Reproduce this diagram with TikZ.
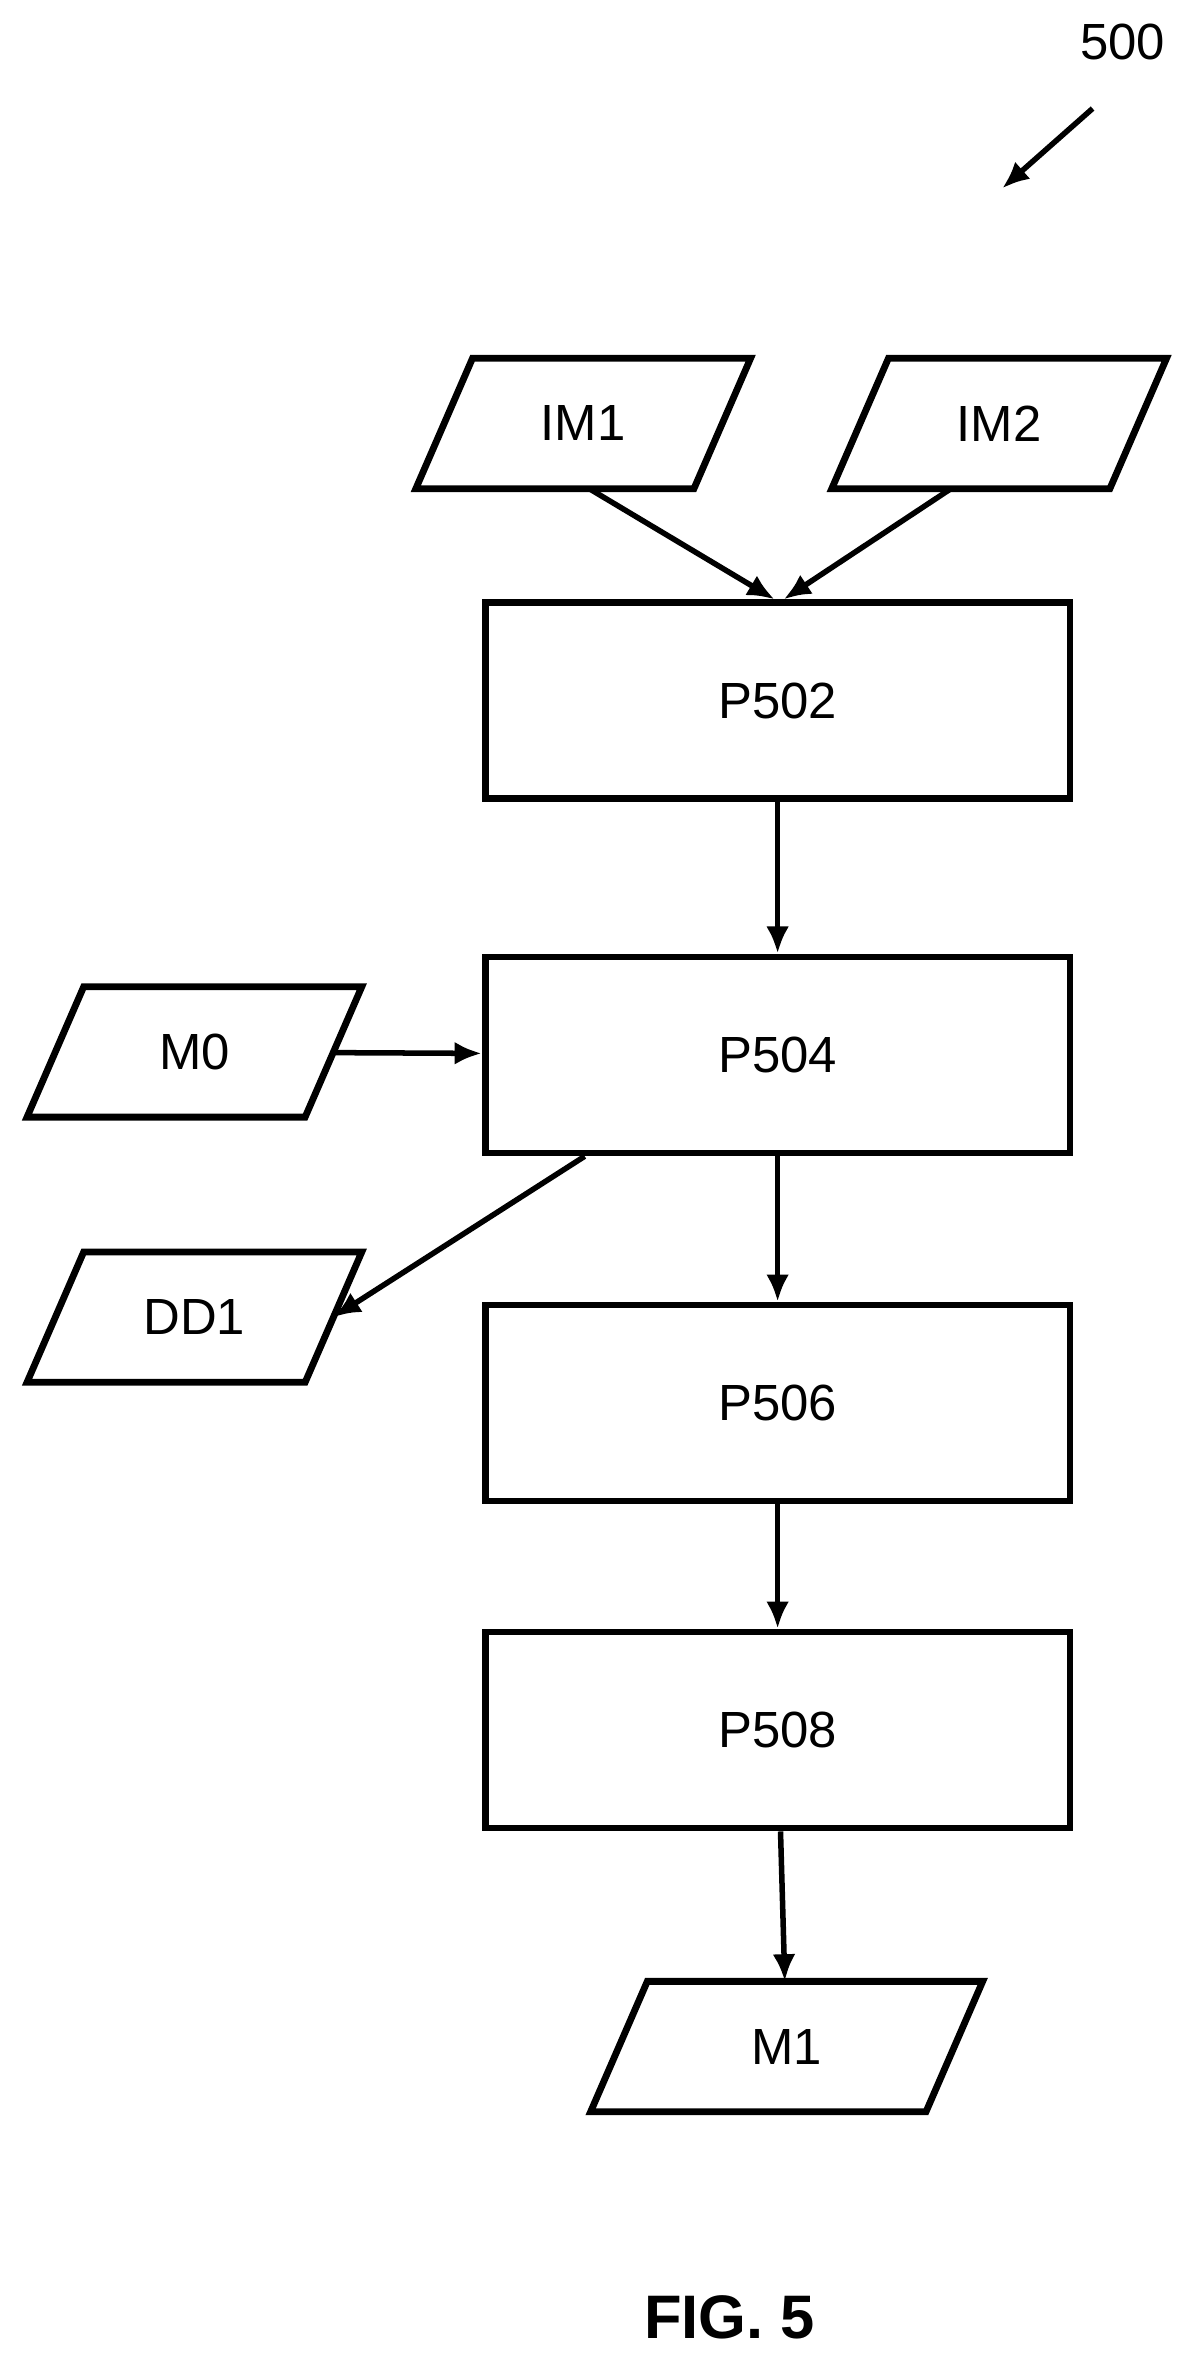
\documentclass[tikz,border=0pt]{standalone}
\usepackage{fontspec}
\setmainfont{Liberation Sans}
\usetikzlibrary{arrows.meta,positioning,shapes.geometric}

\begin{document}
\begin{tikzpicture}[
        x=0.025cm, y=-0.025cm,
        line width=3.2pt,
        box/.style={rectangle, draw, minimum width=9.7cm, minimum height=3.25cm, align=center, font=\fontsize{24}{28}\selectfont},
        data/.style={rectangle, minimum width=4.5cm, minimum height=2.05cm, inner sep=0pt, font=\fontsize{24}{28}\selectfont,
            append after command={\pgfextra{\let\datanode\tikzlastnode}
                ([xshift=0.47cm]\datanode.north west) -- ([xshift=0.47cm]\datanode.north east)
                -- ([xshift=-0.47cm]\datanode.south east) -- ([xshift=-0.47cm]\datanode.south west) -- cycle}},
        arr/.style={-{Latex[length=0.45cm,width=0.38cm]}, line width=2.6pt}
    ]
        \useasboundingbox (0,0) rectangle (795,1568);
        \node[font=\fontsize{24}{28}\selectfont] (ref) at (745,28) {500};
        \coordinate (refA) at (725,72);
        \coordinate (refB) at (665,125);
        \draw[arr] (refA) -- (refB);

        \draw (387,281) node[data] (im1) {IM1};
        \draw (663,281) node[data] (im2) {IM2};
        \node[box] (p502) at (516,465) {P502};
        \node[box] (p504) at (516,700) {P504};
        \draw (129,698) node[data] (m0) {M0};
        \draw (129,874) node[data] (dd1) {DD1};
        \node[box] (p506) at (516,931) {P506};
        \node[box] (p508) at (516,1148) {P508};
        \draw (522,1358) node[data, minimum width=5.45cm] (m1) {M1};
        \node[font=\bfseries\fontsize{29}{33}\selectfont] (fig) at (484,1538) {FIG. 5};

        \draw[arr] ([xshift=0.1cm]im1.south) -- ([xshift=-0.05cm]p502.north);
        \draw[arr] ([xshift=-0.8cm]im2.south) -- ([xshift=0.1cm]p502.north);
        \draw[arr] (p502) -- (p504);
        \draw[arr] (m0) -- (p504);
        \draw[arr] ([xshift=-3.2cm]p504.south) -- (dd1.east);
        \draw[arr] (p504) -- (p506);
        \draw[arr] (p506) -- (p508);
        \draw[arr] (p508) -- (m1);
    \end{tikzpicture}
\end{document}
